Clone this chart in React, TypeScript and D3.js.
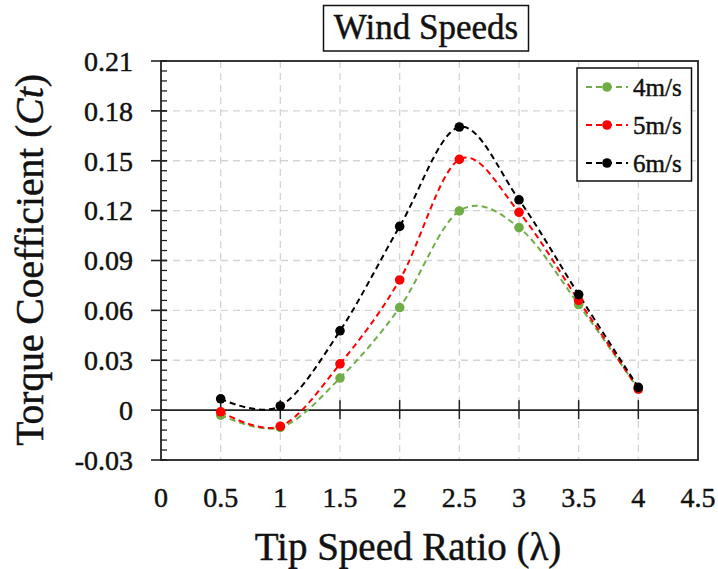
import React from "react";
import * as d3 from "d3";

const xValues = [0.5, 1, 1.5, 2, 2.5, 3, 3.5, 4];
const s4 = [-0.003, -0.0104, 0.0193, 0.0617, 0.1198, 0.1098, 0.0635, 0.0127];
const s5 = [-0.001, -0.0097, 0.0278, 0.0783, 0.1508, 0.119, 0.066, 0.0127];
const s6 = [0.0068, 0.0025, 0.0477, 0.1105, 0.1703, 0.1265, 0.0695, 0.0137];
const seriesNames = ["4m/s", "5m/s", "6m/s"];
const seriesColors = ["#70AD47", "#FF0000", "#000000"];
const xTicks = [0, 0.5, 1, 1.5, 2, 2.5, 3, 3.5, 4, 4.5];
const yTicks = [-0.03, 0, 0.03, 0.06, 0.09, 0.12, 0.15, 0.18, 0.21];
const yTickLabels = ["-0.03", "0", "0.03", "0.06", "0.09", "0.12", "0.15", "0.18", "0.21"];
const xTickLabels = ["0", "0.5", "1", "1.5", "2", "2.5", "3", "3.5", "4", "4.5"];

const W = 718;
const H = 569;
const L = 161, R = 698, T = 61, B = 460;
const FONT = "'Liberation Serif', 'Times New Roman', serif";
const TXT = { fontFamily: FONT, fill: "#111", stroke: "#111", strokeWidth: 0.45 } as const;

export default function App() {
  const x = d3.scaleLinear().domain([0, 4.5]).range([L, R]);
  const y = d3.scaleLinear().domain([-0.03, 0.21]).range([B, T]);
  const line = d3
    .line<number>()
    .x((_, i) => x(xValues[i]))
    .y((d) => y(d))
    .curve(d3.curveCardinal.tension(0));
  const all = [s4, s5, s6];
  const minorTicks = d3.range(0, 41).map((i) => -0.03 + i * 0.006);

  return (
    <div style={{ position: "fixed", left: 0, top: 0 }}>
      <svg width={W} height={H} style={{ display: "block", background: "#fff" }}>
        {/* grid */}
        {xTicks.slice(1, -1).map((t) => (
          <line key={"gx" + t} x1={x(t)} x2={x(t)} y1={T} y2={B} stroke="#d4d4d4" strokeWidth={1.3} strokeDasharray="7,5" />
        ))}
        {yTicks.map((t) =>
          t !== 0 && t !== -0.03 && t !== 0.21 ? (
            <line key={"gy" + t} x1={L} x2={R} y1={y(t)} y2={y(t)} stroke="#d4d4d4" strokeWidth={1.3} strokeDasharray="7,5" />
          ) : null
        )}
        {/* zero line */}
        <line x1={L} x2={R} y1={y(0)} y2={y(0)} stroke="#222" strokeWidth={1.8} />
        {xTicks.slice(1, -1).map((t) => (
          <line key={"xt" + t} x1={x(t)} x2={x(t)} y1={y(0) - 10} y2={y(0) + 9} stroke="#222" strokeWidth={1.5} />
        ))}
        {/* series */}
        {all.map((s, k) => (
          <path key={"p" + k} d={line(s) || ""} fill="none" stroke={seriesColors[k]} strokeWidth={2} strokeDasharray="6,4" />
        ))}
        {all.map((s, k) =>
          s.map((v, i) => (
            <circle key={"c" + k + "-" + i} cx={x(xValues[i])} cy={y(v)} r={4.8} fill={seriesColors[k]} />
          ))
        )}
        {/* frame */}
        <rect x={L} y={T} width={R - L} height={B - T} fill="none" stroke="#222" strokeWidth={1.8} />
        {/* y ticks */}
        {minorTicks.map((t, i) => (
          <line key={"mt" + i} x1={L} x2={L + 6} y1={y(t)} y2={y(t)} stroke="#222" strokeWidth={1.3} />
        ))}
        {yTicks.map((t) => (
          <line key={"yt" + t} x1={L - 10} x2={L + 6} y1={y(t)} y2={y(t)} stroke="#222" strokeWidth={1.6} />
        ))}
        {/* y tick labels */}
        {yTicks.map((t, i) => (
          <text key={"yl" + t} x={133} y={y(t)} dy="0.35em" textAnchor="end" fontSize={28} {...TXT}>
            {yTickLabels[i]}
          </text>
        ))}
        {/* x tick labels */}
        {xTicks.map((t, i) => (
          <text key={"xl" + t} x={x(t)} y={507} textAnchor="middle" fontSize={28} {...TXT}>
            {xTickLabels[i]}
          </text>
        ))}
        {/* axis titles */}
        <text x={408} y={560} textAnchor="middle" fontSize={39} {...TXT}>
          Tip Speed Ratio (λ)
        </text>
        <text transform="translate(43,260) rotate(-90)" textAnchor="middle" fontSize={39.5} {...TXT}>
          Torque Coefficient (<tspan fontStyle="italic">Ct</tspan>)
        </text>
        {/* title */}
        <rect x={323.5} y={5.5} width={205} height={45.5} fill="#fff" stroke="#111" strokeWidth={1.5} />
        <text x={426} y={38.5} textAnchor="middle" fontSize={35} {...TXT}>
          Wind Speeds
        </text>
        {/* legend */}
        <rect x={577} y={68} width={114.5} height={113} fill="#fff" stroke="#111" strokeWidth={1.5} />
        {seriesNames.map((n, k) => {
          const cy = 87 + k * 38;
          return (
            <g key={"lg" + k}>
              <line x1={586} x2={628} y1={cy} y2={cy} stroke={seriesColors[k]} strokeWidth={2} strokeDasharray="6,4" />
              <circle cx={607} cy={cy} r={4.8} fill={seriesColors[k]} />
              <text x={633} y={cy} dy="0.35em" fontSize={25} {...TXT}>
                {n}
              </text>
            </g>
          );
        })}
      </svg>
    </div>
  );
}
